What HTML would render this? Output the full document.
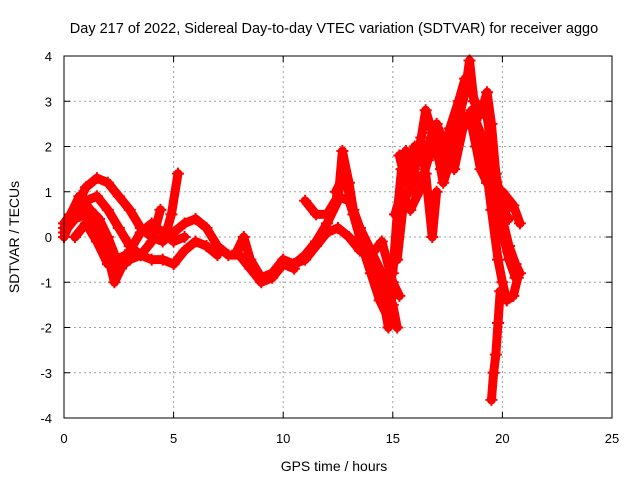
<!DOCTYPE html>
<html><head><meta charset="utf-8"><style>
body{margin:0;background:#fff}
svg{display:block;font-family:"Liberation Sans",sans-serif}
</style></head><body>
<svg id="chart" width="640" height="480">
<text x="334" y="33" text-anchor="middle" font-size="14.5">Day 217 of 2022, Sidereal Day-to-day VTEC variation (SDTVAR) for receiver aggo</text>
<text x="334" y="471" text-anchor="middle" font-size="14">GPS time / hours</text>
<text transform="translate(19,237) rotate(-90)" text-anchor="middle" font-size="14">SDTVAR / TECUs</text>
<g id="grid"></g><g id="ticks"></g><g id="marks"></g>
<rect x="64" y="56" width="548" height="362" fill="none" stroke="#000" stroke-width="1"/>
</svg>
<script>
const xTicks=[0,5,10,15,20,25];
const yTicks=[-4,-3,-2,-1,0,1,2,3,4];
const trackA_t=[0,0.5,1,1.5,2,2.5,3,3.5,4,4.5,5,5.5,6,6.5,7,7.5,8,8.5,9,9.5,10,10.5];
const trackA_v=[0,0.6,1.1,1.3,1.2,0.9,0.6,0.2,0,-0.1,0.1,0.3,0.4,0.2,-0.2,-0.4,-0.4,-0.7,-1.0,-0.9,-0.6,-0.7];
const trackB_t=[0,0.5,1,1.5,2,2.5,3,3.5,4,4.5,5,5.5,6,6.5,7];
const trackB_v=[0.2,0.5,0.8,0.9,0.6,0.2,-0.2,-0.4,-0.5,-0.5,-0.6,-0.3,-0.1,-0.2,-0.4];
const trackC_t=[0,0.5,1,1.5,2,2.3,2.6,3,3.5,4,4.5,5,5.5];
const trackC_v=[0.1,0.4,0.5,0.2,-0.4,-1.0,-0.7,-0.3,0.1,0.3,0.1,-0.1,0];
const trackD_t=[0.5,1,1.5,2,2.5,3,3.5,4,4.4];
const trackD_v=[0,0.3,-0.1,-0.6,-0.7,-0.5,-0.4,-0.1,0.6];
const trackE_t=[4.6,4.9,5.2];
const trackE_v=[0,0.5,1.4];
const trackF_t=[7.9,8.2,8.5,9,9.5,10,10.5,11,11.5,12,12.5,12.7,13,13.2,13.5,14,14.5,15,15.2];
const trackF_v=[-0.3,0,-0.5,-0.9,-0.8,-0.5,-0.6,-0.4,-0.1,0.3,0.8,1.9,1.2,0.6,0.2,-0.3,-0.8,-1.5,-2.0];
const trackG_t=[11,11.5,12,12.5,13,13.5,14,14.5,14.8];
const trackG_v=[0.8,0.5,0.5,0.9,0.8,0.1,-0.5,-1.2,-2.0];
const trackH_t=[10.5,11,11.5,12,12.5,13,13.5,14,14.5,15,15.3];
const trackH_v=[-0.6,-0.5,-0.2,0.1,0.2,0,-0.3,-0.4,-0.1,-1.0,-1.3];
const trackI_t=[15,15.2,15.4,15.6,16,16.5,17,17.5,18,18.3,18.5,18.7,19,19.3,19.5,19.7,20,20.3];
const trackI_v=[-0.8,0.5,1.5,1.9,1.7,2.0,1.8,2.2,2.6,3.2,3.9,3.0,2.7,3.2,2.5,1.4,0.6,0.4];
const trackJ_t=[15.5,15.8,16,16.3,16.5,17,17.3,17.7,18,18.5,18.8,19,19.3,19.5,19.7,20,20.3,20.6,20.8];
const trackJ_v=[1.5,1.0,1.5,2.2,2.8,2.0,1.2,1.8,2.6,2.7,2.0,1.5,1.2,1.7,1.0,0.4,-0.2,-0.6,-0.8];
const trackK_t=[15.2,15.5,16,16.5,16.8,17];
const trackK_v=[-0.5,0.8,1.3,1.4,0,1.0];
const trackL_t=[19,19.3,19.5,19.8,20,20.2,20.5,20.7];
const trackL_v=[2.2,1.4,0.6,-0.5,-1.0,-1.4,-1.3,-0.9];
const trackN_t=[19.9,19.8,19.7,19.6,19.5];
const trackN_v=[-1.2,-1.9,-2.6,-3.0,-3.6];
const trackM_t=[19.3,20,20.5,20.8];
const trackM_v=[1.2,1.0,0.7,0.3];
const trackO_t=[15.3,15.6,16,16.4,16.8,17.2,17.6,18,18.3,18.6,18.9,19.2,19.5,19.8,20.2];
const trackO_v=[1.8,1.2,2.0,1.6,2.3,1.5,2.4,3.0,3.5,3.2,2.8,3.0,2.0,0.8,0.6];
const trackP_t=[15.1,15.4,15.8,16.2,16.6,17,17.4,17.8,18.2,18.6,19,19.5,19.9,20.3,20.6];
const trackP_v=[0.5,1.0,0.6,1.0,1.7,2.5,2.0,1.5,2.4,2.8,2.3,1.3,0.3,-0.5,-0.9];
const trackQ_t=[12.4,12.8,13.2,13.6,14,14.4,14.8,15];
const trackQ_v=[1.0,1.4,0.5,-0.2,-0.8,-1.4,-1.8,-1.2];
const trackR_t=[0,0.3,0.7,1.2,1.6,2,2.4,2.8];
const trackR_v=[0.3,0.5,0.9,0.6,0.4,0,-0.5,-0.4];
const tracks=[[trackA_t,trackA_v],[trackB_t,trackB_v],[trackC_t,trackC_v],[trackD_t,trackD_v],[trackE_t,trackE_v],[trackF_t,trackF_v],[trackG_t,trackG_v],[trackH_t,trackH_v],[trackI_t,trackI_v],[trackJ_t,trackJ_v],[trackK_t,trackK_v],[trackL_t,trackL_v],[trackN_t,trackN_v],[trackM_t,trackM_v],[trackO_t,trackO_v],[trackP_t,trackP_v],[trackQ_t,trackQ_v],[trackR_t,trackR_v]];
const X0=64,X1=612,Y0=418,Y1=56;
function xs(t){return X0+(t-0)/25*(X1-X0);}
function ys(v){return Y0-(v+4)/8*(Y0-Y1);}
const NS='http://www.w3.org/2000/svg';
const grid=document.getElementById('grid'),ticks=document.getElementById('ticks'),marks=document.getElementById('marks');
function mk(tag,attrs,parent){const e=document.createElementNS(NS,tag);for(const k in attrs)e.setAttribute(k,attrs[k]);parent.appendChild(e);return e;}
xTicks.forEach(t=>{const x=xs(t);
 if(t>0&&t<25){const g=mk('line',{x1:x,x2:x,y1:Y1,y2:Y0,stroke:'#a0a0a0','stroke-dasharray':'2,3'},grid);
 
 }
 mk('line',{x1:x,x2:x,y1:Y0,y2:Y0-6,stroke:'#000'},ticks);mk('line',{x1:x,x2:x,y1:Y1,y2:Y1+6,stroke:'#000'},ticks);
 const l=mk('text',{x:x,y:443,'text-anchor':'middle','font-size':'13'},ticks);l.textContent=t;
 
 });
yTicks.forEach(v=>{const y=ys(v);
 if(v>-4&&v<4){const g=mk('line',{x1:X0,x2:X1,y1:y,y2:y,stroke:'#a0a0a0','stroke-dasharray':'2,3'},grid);
 
 }
 mk('line',{x1:X0,x2:X0+6,y1:y,y2:y,stroke:'#000'},ticks);mk('line',{x1:X1,x2:X1-6,y1:y,y2:y,stroke:'#000'},ticks);
 const l=mk('text',{x:52,y:y+5,'text-anchor':'end','font-size':'13'},ticks);l.textContent=v;
 
 });
tracks.forEach(([T,V])=>{
 const pts=T.map((t,i)=>xs(t)+','+ys(V[i])).join(' ');
 const p=mk('polyline',{points:pts,fill:'none',stroke:'#ff0000','stroke-width':9,'stroke-linejoin':'round','stroke-linecap':'round'},marks);
 
 
 T.forEach((t,i)=>{const x=xs(t),y=ys(V[i]);
  const m=mk('path',{d:`M${x-6},${y}H${x+6}M${x},${y-6}V${y+6}`,stroke:'#ff0000','stroke-width':2},marks);
  
  });
});
</script>
</body></html>
